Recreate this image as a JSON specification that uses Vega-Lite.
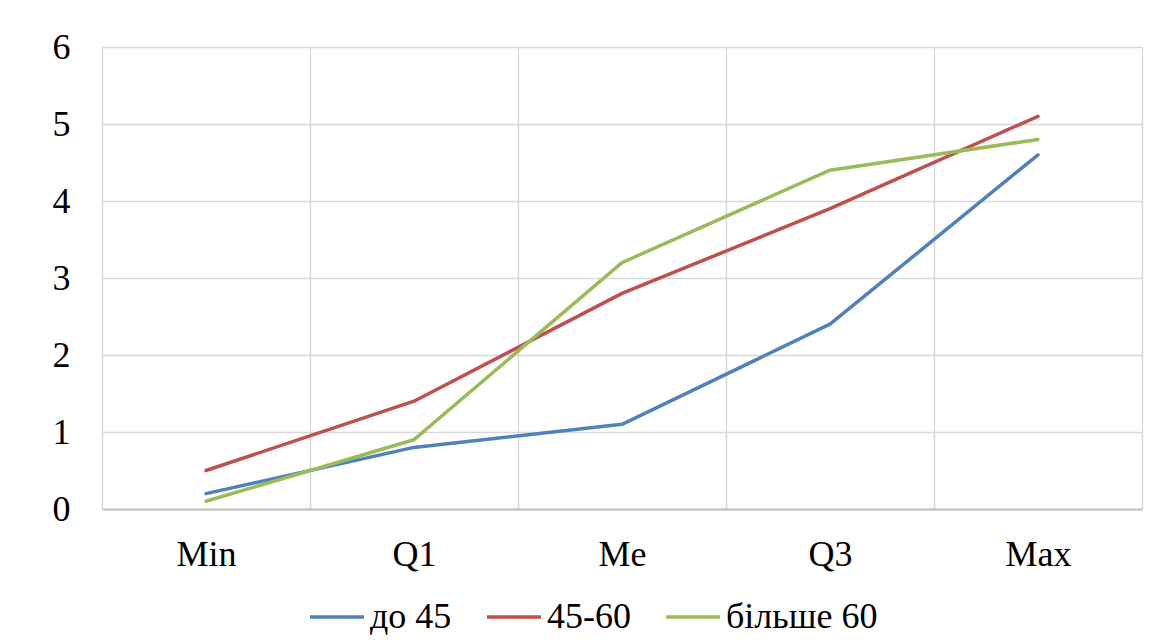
{
  "$schema": "https://vega.github.io/schema/vega-lite/v6.json",
  "width": 1040,
  "height": 462,
  "autosize": {"type": "none"},
  "padding": {"left": 102, "top": 47, "right": 20, "bottom": 134},
  "background": "#ffffff",
  "data": {
    "values": [
      {"stat": "Min", "group": "до 45", "value": 0.2},
      {"stat": "Q1", "group": "до 45", "value": 0.8},
      {"stat": "Me", "group": "до 45", "value": 1.1},
      {"stat": "Q3", "group": "до 45", "value": 2.4},
      {"stat": "Max", "group": "до 45", "value": 4.6},
      {"stat": "Min", "group": "45-60", "value": 0.5},
      {"stat": "Q1", "group": "45-60", "value": 1.4},
      {"stat": "Me", "group": "45-60", "value": 2.8},
      {"stat": "Q3", "group": "45-60", "value": 3.9},
      {"stat": "Max", "group": "45-60", "value": 5.1},
      {"stat": "Min", "group": "більше 60", "value": 0.1},
      {"stat": "Q1", "group": "більше 60", "value": 0.9},
      {"stat": "Me", "group": "більше 60", "value": 3.2},
      {"stat": "Q3", "group": "більше 60", "value": 4.4},
      {"stat": "Max", "group": "більше 60", "value": 4.8}
    ]
  },
  "mark": {"type": "line", "strokeWidth": 3.5, "strokeCap": "round", "strokeJoin": "round"},
  "encoding": {
    "x": {
      "field": "stat",
      "type": "nominal",
      "sort": ["Min", "Q1", "Me", "Q3", "Max"],
      "scale": {"type": "band", "paddingInner": 0, "paddingOuter": 0},
      "axis": {
        "title": null,
        "labelAngle": 0,
        "tickBand": "extent",
        "grid": true,
        "gridColor": "#d9d9d9",
        "gridWidth": 1.5,
        "ticks": false,
        "domainColor": "#bfbfbf",
        "domainWidth": 2,
        "labelPadding": 28,
        "labelFontSize": 36,
        "labelColor": "#000000"
      }
    },
    "y": {
      "field": "value",
      "type": "quantitative",
      "scale": {"domain": [0, 6], "nice": false},
      "axis": {
        "title": null,
        "values": [0, 1, 2, 3, 4, 5, 6],
        "domain": false,
        "ticks": false,
        "grid": true,
        "gridColor": "#d9d9d9",
        "gridWidth": 1.5,
        "labelPadding": 32,
        "labelFontSize": 36,
        "labelColor": "#000000"
      }
    },
    "color": {
      "field": "group",
      "type": "nominal",
      "scale": {
        "domain": ["до 45", "45-60", "більше 60"],
        "range": ["#4f81bd", "#c0504d", "#9bbb59"]
      },
      "legend": {
        "title": null,
        "orient": "none",
        "direction": "horizontal",
        "legendX": 206,
        "legendY": 541,
        "symbolType": "stroke",
        "symbolSize": 2916,
        "symbolStrokeWidth": 3.5,
        "labelFontSize": 36,
        "labelColor": "#000000",
        "labelOffset": 4,
        "columnPadding": 28,
        "labelLimit": 400
      }
    }
  },
  "config": {
    "font": "Liberation Serif",
    "axis": {"labelFont": "Liberation Serif"},
    "legend": {"labelFont": "Liberation Serif"},
    "view": {"stroke": null}
  }
}
